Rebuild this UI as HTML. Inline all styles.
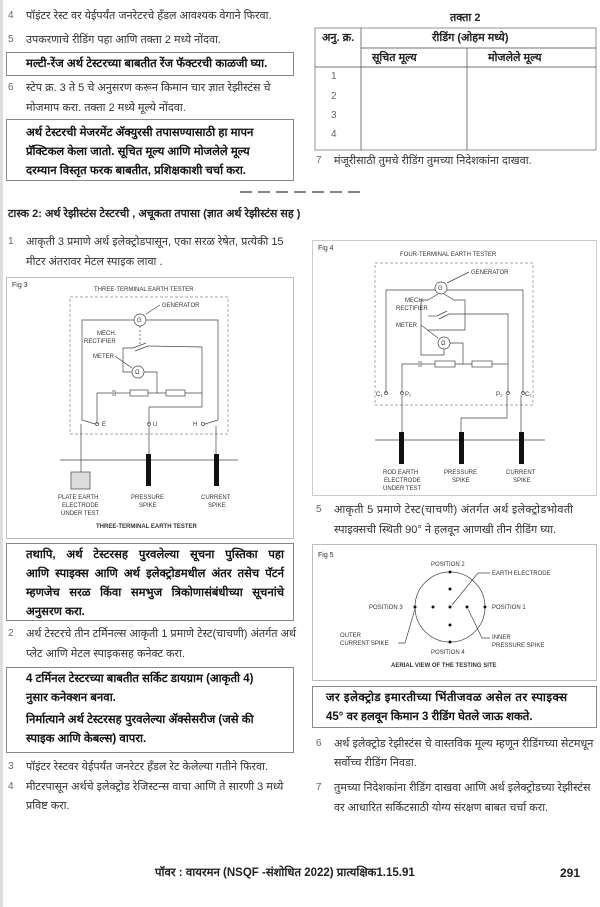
<!DOCTYPE html>
<html><head><meta charset="utf-8"><style>
body{margin:0;width:600px;height:907px;background:#fff;position:relative;overflow:hidden;font-family:"Liberation Sans","Noto Sans CJK SC",sans-serif;color:#333}
.t{position:absolute;font-size:11px;white-space:nowrap;line-height:14px}
.n{position:absolute;font-size:10px;color:#666}
.b{position:absolute;border:1px solid #888;box-sizing:border-box;background:#fff}
.bt{position:absolute;font-size:11.5px;font-weight:bold;color:#111;white-space:nowrap;line-height:14px}
svg{position:absolute;left:0;top:0}
.s{font-family:"Liberation Sans",sans-serif;font-size:6px;fill:#333}
</style></head><body>
<div style="position:absolute;left:0;top:0;width:3px;height:907px;background:#ddd"></div>

<span class="n" style="left:8px;top:10px">4</span><div class="t" style="left:26px;top:9px">पॉइंटर रेस्ट वर येईपर्यंत जनरेटरचे हँडल आवश्यक वेगाने फिरवा.</div>
<span class="n" style="left:8px;top:34px">5</span><div class="t" style="left:26px;top:33px">उपकरणाचे रीडिंग पहा आणि तक्ता 2 मध्ये नोंदवा.</div>
<div class="b" style="left:6px;top:52px;width:288px;height:24px"></div><div class="bt" style="left:26px;top:57px">मल्टी-रेंज अर्थ टेस्टरच्या बाबतीत रेंज फॅक्टरची काळजी घ्या.</div>
<span class="n" style="left:8px;top:82px">6</span><div class="t" style="left:26px;top:81px">स्टेप क्र. 3 ते 5 चे अनुसरण करून किमान चार ज्ञात रेझीस्टंस चे</div>
<div class="t" style="left:26px;top:101px">मोजमाप करा. तक्ता 2 मध्ये मूल्ये नोंदवा.</div>
<div class="b" style="left:6px;top:119px;width:288px;height:62px"></div>
<div class="bt" style="left:26px;top:126px">अर्थ टेस्टरची मेजरमेंट ॲक्युरसी तपासण्यासाठी हा मापन</div>
<div class="bt" style="left:26px;top:145px">प्रॅक्टिकल केला जातो. सूचित मूल्य आणि मोजलेले मूल्य</div>
<div class="bt" style="left:26px;top:164px">दरम्यान विस्तृत फरक बाबतीत, प्रशिक्षकाशी चर्चा करा.</div>

<div class="t" style="left:8px;top:207px;font-weight:bold;color:#222">टास्क 2: अर्थ रेझीस्टंस टेस्टरची , अचूकता तपासा (ज्ञात अर्थ रेझीस्टंस सह )</div>
<span class="n" style="left:8px;top:236px">1</span><div class="t" style="left:26px;top:235px">आकृती 3 प्रमाणे अर्थ इलेक्ट्रोडपासून, एका सरळ रेषेत, प्रत्येकी 15</div>
<div class="t" style="left:26px;top:255px">मीटर अंतरावर मेटल स्पाइक लावा .</div>

<div class="b" style="left:6px;top:277px;width:288px;height:262px;border-color:#bbb"></div>
<div class="b" style="left:6px;top:543px;width:288px;height:78px"></div>
<div class="bt" style="left:26px;top:548px;width:258px;text-align:justify;text-align-last:justify">तथापि, अर्थ टेस्टरसह पुरवलेल्या सूचना पुस्तिका पहा</div>
<div class="bt" style="left:26px;top:567px;width:258px;text-align:justify;text-align-last:justify">आणि स्पाइक्स आणि अर्थ इलेक्ट्रोडमधील अंतर तसेच पॅटर्न</div>
<div class="bt" style="left:26px;top:586px;width:258px;text-align:justify;text-align-last:justify">म्हणजेच सरळ किंवा समभुज त्रिकोणासंबंधीच्या सूचनांचे</div>
<div class="bt" style="left:26px;top:605px">अनुसरण करा.</div>
<span class="n" style="left:8px;top:628px">2</span><div class="t" style="left:26px;top:627px">अर्थ टेस्टरचे तीन टर्मिनल्स आकृती 1 प्रमाणे टेस्ट(चाचणी) अंतर्गत अर्थ</div>
<div class="t" style="left:26px;top:647px">प्लेट आणि मेटल स्पाइकसह कनेक्ट करा.</div>
<div class="b" style="left:6px;top:667px;width:288px;height:86px"></div>
<div class="bt" style="left:26px;top:672px">4 टर्मिनल टेस्टरच्या बाबतीत सर्किट डायग्राम (आकृती 4)</div>
<div class="bt" style="left:26px;top:691px">नुसार कनेक्शन बनवा.</div>
<div class="bt" style="left:26px;top:713px">निर्मात्याने अर्थ टेस्टरसह पुरवलेल्या ॲक्सेसरीज (जसे की</div>
<div class="bt" style="left:26px;top:732px">स्पाइक आणि केबल्स) वापरा.</div>
<span class="n" style="left:8px;top:761px">3</span><div class="t" style="left:26px;top:760px">पॉइंटर रेस्टवर येईपर्यंत जनरेटर हँडल रेट केलेल्या गतीने फिरवा.</div>
<span class="n" style="left:8px;top:781px">4</span><div class="t" style="left:26px;top:780px">मीटरपासून अर्थचे इलेक्ट्रोड रेजिस्टन्स वाचा आणि ते सारणी 3 मध्ये</div>
<div class="t" style="left:26px;top:799px">प्रविष्ट करा.</div>

<div class="t" style="left:450px;top:11px;font-weight:bold;color:#222">तक्ता 2</div>
<div class="t" style="left:322px;top:31px;font-weight:bold;color:#222">अनु. क्र.</div>
<div class="t" style="left:432px;top:31px;font-weight:bold;color:#222">रीडिंग (ओहम मध्ये)</div>
<div class="t" style="left:372px;top:51px;font-weight:bold;color:#222">सूचित मूल्य</div>
<div class="t" style="left:488px;top:51px;font-weight:bold;color:#222">मोजलेले मूल्य</div>
<span class="n" style="left:331px;top:71px">1</span><span class="n" style="left:331px;top:91px">2</span><span class="n" style="left:331px;top:110px">3</span><span class="n" style="left:331px;top:129px">4</span>
<span class="n" style="left:316px;top:155px">7</span><div class="t" style="left:334px;top:154px">मंजूरीसाठी तुमचे रीडिंग तुमच्या निदेशकांना दाखवा.</div>

<div class="b" style="left:312px;top:240px;width:285px;height:256px;border-color:#ccc"></div>
<span class="n" style="left:316px;top:504px">5</span><div class="t" style="left:334px;top:503px;letter-spacing:.3px">आकृती 5 प्रमाणे टेस्ट(चाचणी) अंतर्गत अर्थ इलेक्ट्रोडभोवती</div>
<div class="t" style="left:334px;top:523px">स्पाइक्सची स्थिती 90° ने हलवून आणखी तीन रीडिंग घ्या.</div>
<div class="b" style="left:312px;top:544px;width:285px;height:137px;border-color:#bbb"></div>
<div class="b" style="left:312px;top:686px;width:285px;height:42px"></div>
<div class="bt" style="left:326px;top:691px;letter-spacing:.5px">जर इलेक्ट्रोड इमारतीच्या भिंतीजवळ असेल तर स्पाइक्स</div>
<div class="bt" style="left:326px;top:710px">45° वर हलवून किमान 3 रीडिंग घेतले जाऊ शकते.</div>
<span class="n" style="left:316px;top:738px">6</span><div class="t" style="left:334px;top:737px">अर्थ इलेक्ट्रोड रेझीस्टंस चे वास्तविक मूल्य म्हणून रीडिंगच्या सेटमधून</div>
<div class="t" style="left:334px;top:756px">सर्वोच्च रीडिंग निवडा.</div>
<span class="n" style="left:316px;top:782px">7</span><div class="t" style="left:334px;top:781px">तुमच्या निदेशकांना रीडिंग दाखवा आणि अर्थ इलेक्ट्रोडच्या रेझीस्टंस</div>
<div class="t" style="left:334px;top:801px">वर आधारित सर्किटसाठी योग्य संरक्षण बाबत चर्चा करा.</div>

<div class="t" style="left:155px;top:866px;font-weight:bold;color:#222;font-size:11.5px">पॉवर : वायरमन (NSQF -संशोधित 2022) प्रात्यक्षिक1.15.91</div>
<div class="t" style="left:560px;top:866px;font-weight:bold;color:#222;font-size:12px">291</div>

<svg width="600" height="907" viewBox="0 0 600 907" fill="none" stroke="#444" stroke-width="0.7">
<rect x="315" y="28" width="281" height="122" stroke="#666"/>
<line x1="361" y1="28" x2="361" y2="150"/><line x1="361" y1="48" x2="596" y2="48"/><line x1="315" y1="67" x2="596" y2="67"/><line x1="467" y1="48" x2="467" y2="150"/>
<g stroke="#333" stroke-width="1.2"><line x1="240" y1="192" x2="252" y2="192"/><line x1="258" y1="192" x2="270" y2="192"/><line x1="276" y1="192" x2="288" y2="192"/><line x1="294" y1="192" x2="306" y2="192"/><line x1="312" y1="192" x2="324" y2="192"/><line x1="330" y1="192" x2="342" y2="192"/><line x1="348" y1="192" x2="360" y2="192"/></g>

<g>
<text class="s" x="12" y="287" stroke="none" style="font-size:7px">Fig 3</text>
<text class="s" x="94" y="291" stroke="none">THREE-TERMINAL EARTH TESTER</text>
<rect x="70" y="297" width="158" height="137" stroke-dasharray="3,2" stroke="#888"/>
<circle cx="140" cy="320" r="6"/><text class="s" x="137" y="322" stroke="none">G</text>
<text class="s" x="162" y="307" stroke="none">GENERATOR</text><line x1="160" y1="305" x2="146" y2="314"/>
<polyline points="134,320 82,320 82,420 95,424"/><polyline points="146,320 218,320 218,420 205,424"/>
<line x1="140" y1="326" x2="140" y2="345" stroke-dasharray="2,2"/>
<text class="s" x="97" y="335" stroke="none">MECH.</text><text class="s" x="84" y="343" stroke="none">RECTIFIER</text>
<line x1="133" y1="348" x2="146" y2="343"/><line x1="135" y1="351" x2="148" y2="346"/>
<polyline points="133,348 123,348 123,372 132,372"/><polyline points="148,346 202,347 202,393"/>
<text class="s" x="93" y="358" stroke="none">METER</text><line x1="115" y1="356" x2="132" y2="368"/>
<circle cx="138" cy="372" r="6"/><text class="s" x="135" y="374" stroke="none">Ω</text>
<polyline points="144,372 157,372 157,393"/>
<polyline points="97,424 97,393 112,393"/><line x1="113" y1="390" x2="113" y2="396"/><line x1="115" y1="390" x2="115" y2="396"/>
<line x1="115" y1="393" x2="130" y2="393"/><rect x="130" y="390" width="18" height="6"/><line x1="148" y1="393" x2="166" y2="393"/><rect x="166" y="390" width="19" height="6"/><line x1="185" y1="393" x2="202" y2="393"/>
<polyline points="202,393 202,407 149,407 149,424"/>
<circle cx="97" cy="424" r="1.5"/><circle cx="149" cy="424" r="1.5"/><circle cx="203" cy="424" r="1.5"/>
<text class="s" x="102" y="426" stroke="none">E</text><text class="s" x="153" y="426" stroke="none">U</text><text class="s" x="193" y="426" stroke="none">H</text>
<line x1="81" y1="424" x2="81" y2="472"/><line x1="149" y1="426" x2="149" y2="455"/><line x1="216" y1="426" x2="216" y2="455"/>
<line x1="60" y1="460" x2="238" y2="460"/>
<rect x="71" y="472" width="19" height="17" fill="#ddd"/>
<rect x="146" y="454" width="5" height="32" fill="#111" stroke="none"/><rect x="214" y="454" width="5" height="32" fill="#111" stroke="none"/>
<text class="s" x="58" y="499" stroke="none">PLATE EARTH</text><text class="s" x="62" y="507" stroke="none">ELECTRODE</text><text class="s" x="61" y="515" stroke="none">UNDER TEST</text>
<text class="s" x="131" y="499" stroke="none">PRESSURE</text><text class="s" x="139" y="507" stroke="none">SPIKE</text>
<text class="s" x="201" y="499" stroke="none">CURRENT</text><text class="s" x="208" y="507" stroke="none">SPIKE</text>
<text class="s" x="96" y="528" stroke="none" style="font-weight:bold">THREE-TERMINAL EARTH TESTER</text>
</g>

<g>
<text class="s" x="318" y="250" stroke="none" style="font-size:7px">Fig 4</text>
<text class="s" x="400" y="256" stroke="none">FOUR-TERMINAL EARTH TESTER</text>
<rect x="375" y="263" width="158" height="142" stroke-dasharray="3,2" stroke="#888"/>
<circle cx="441" cy="288" r="6"/><text class="s" x="438" y="290" stroke="none">G</text>
<text class="s" x="471" y="274" stroke="none">GENERATOR</text><line x1="469" y1="272" x2="447" y2="283"/>
<polyline points="435,290 386,290 386,393"/><polyline points="447,290 523,290 523,393"/>
<polyline points="438,294 428,300 421,300 421,355 444,355 444,349"/><polyline points="444,294 454,300 465,300 465,330 428,330"/>
<text class="s" x="405" y="302" stroke="none">MECH.</text><text class="s" x="396" y="310" stroke="none">RECTIFIER</text>
<line x1="437" y1="316" x2="447" y2="311"/><line x1="439" y1="319" x2="449" y2="314"/>
<polyline points="437,316 428,316"/><polyline points="449,314 508,314 508,364"/>
<text class="s" x="396" y="327" stroke="none">METER</text><line x1="421" y1="325" x2="438" y2="338"/>
<circle cx="444" cy="343" r="6"/><text class="s" x="441" y="345" stroke="none">Ω</text>
<polyline points="450,343 463,343 463,364"/>
<polyline points="402,393 402,364 418,364"/><line x1="419" y1="361" x2="419" y2="367"/><line x1="421" y1="361" x2="421" y2="367"/>
<line x1="421" y1="364" x2="435" y2="364"/><rect x="435" y="361" width="20" height="6"/><line x1="455" y1="364" x2="472" y2="364"/><rect x="472" y="361" width="20" height="6"/><line x1="492" y1="364" x2="508" y2="364"/>
<line x1="508" y1="364" x2="508" y2="393"/>
<circle cx="386" cy="393" r="1.5"/><circle cx="402" cy="393" r="1.5"/><circle cx="508" cy="393" r="1.5"/><circle cx="523" cy="393" r="1.5"/>
<text class="s" x="376" y="396" stroke="none">C₁</text><text class="s" x="405" y="396" stroke="none">P₁</text><text class="s" x="496" y="396" stroke="none">P₂</text><text class="s" x="525" y="396" stroke="none">C₂</text>
<line x1="402" y1="395" x2="402" y2="433"/><polyline points="507,395 507,418 461,418 461,433"/><line x1="521" y1="395" x2="521" y2="433"/>
<line x1="375" y1="440" x2="545" y2="440"/>
<rect x="399" y="432" width="5" height="32" fill="#111" stroke="none"/><rect x="459" y="432" width="5" height="32" fill="#111" stroke="none"/><rect x="519" y="432" width="5" height="32" fill="#111" stroke="none"/>
<text class="s" x="383" y="474" stroke="none">ROD EARTH</text><text class="s" x="384" y="482" stroke="none">ELECTRODE</text><text class="s" x="383" y="490" stroke="none">UNDER TEST</text>
<text class="s" x="444" y="474" stroke="none">PRESSURE</text><text class="s" x="452" y="482" stroke="none">SPIKE</text>
<text class="s" x="506" y="474" stroke="none">CURRENT</text><text class="s" x="513" y="482" stroke="none">SPIKE</text>
</g>

<g>
<text class="s" x="318" y="557" stroke="none" style="font-size:7px">Fig 5</text>
<circle cx="450" cy="607" r="35"/>
<g fill="#111" stroke="none"><circle cx="450" cy="572" r="1.5"/><circle cx="450" cy="642" r="1.5"/><circle cx="415" cy="607" r="1.5"/><circle cx="485" cy="607" r="1.5"/><circle cx="450" cy="589" r="1.5"/><circle cx="450" cy="625" r="1.5"/><circle cx="433" cy="607" r="1.5"/><circle cx="467" cy="607" r="1.5"/><circle cx="450" cy="607" r="1.5"/></g>
<text class="s" x="431" y="566" stroke="none">POSITION 2</text><text class="s" x="431" y="654" stroke="none">POSITION 4</text>
<text class="s" x="369" y="609" stroke="none">POSITION 3</text><text class="s" x="492" y="609" stroke="none">POSITION 1</text>
<text class="s" x="492" y="575" stroke="none">EARTH ELECTRODE</text><polyline points="490,573 478,573 452,605"/>
<text class="s" x="340" y="637" stroke="none">OUTER</text><text class="s" x="340" y="645" stroke="none">CURRENT SPIKE</text><polyline points="398,643 405,643 415,609"/>
<text class="s" x="492" y="639" stroke="none">INNER</text><text class="s" x="492" y="647" stroke="none">PRESSURE SPIKE</text><polyline points="490,638 482,638 468,609"/>
<text class="s" x="391" y="667" stroke="none" style="font-weight:bold">AERIAL VIEW OF THE TESTING SITE</text>
</g>
</svg>
</body></html>
